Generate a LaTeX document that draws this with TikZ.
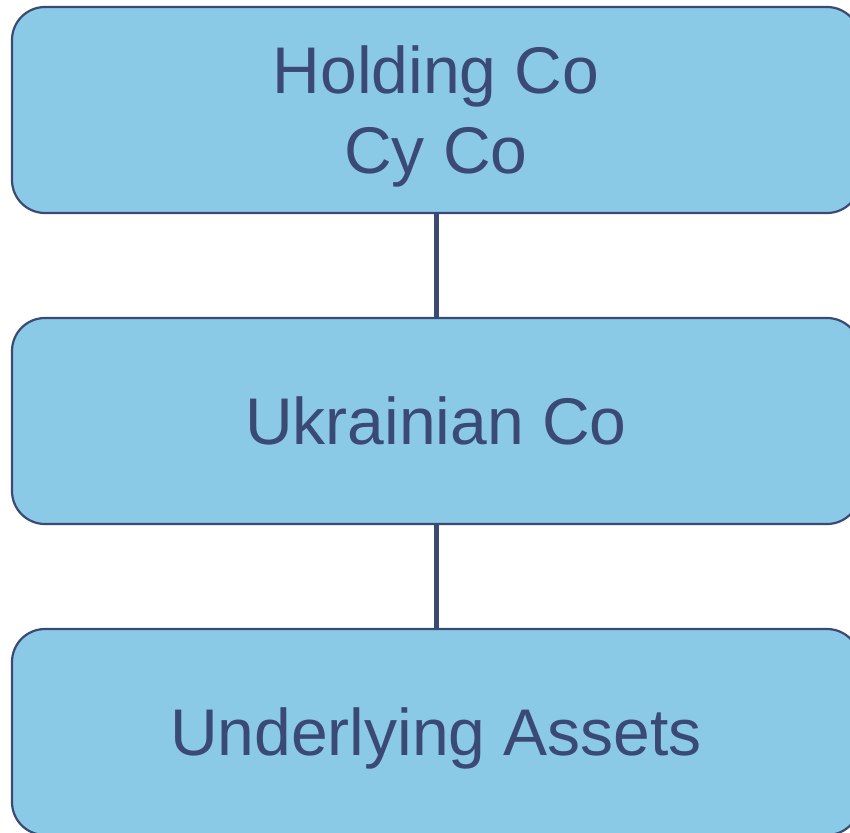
\documentclass[tikz,border=0pt]{standalone}
\usepackage{fontspec}
\setmainfont{Liberation Sans}
\usetikzlibrary{positioning}
\definecolor{boxfill}{RGB}{139,202,230}
\definecolor{boxline}{RGB}{59,74,116}

\begin{document}
\begin{tikzpicture}[
    entity/.style={draw=boxline, line width=2.2pt, fill=boxfill, rounded corners=33pt,
        minimum width=848pt, minimum height=206pt, inner sep=0pt, outer sep=0pt,
        align=center, text depth=0pt, text=boxline, font=\fontsize{66}{80}\selectfont},
    link/.style={draw=boxline, line width=5pt}
]
    \clip (0pt,0pt) rectangle (850pt,-832pt);
    \node[entity] (holding) at (436pt,-110pt) {Holding Co\\Cy Co};
    \node[entity, below=105pt of holding] (ukr) {Ukrainian Co};
    \node[entity, below=105pt of ukr] (assets) {Underlying Assets};
    \draw[link] (holding) -- (ukr);
    \draw[link] (ukr) -- (assets);
\end{tikzpicture}
\end{document}
